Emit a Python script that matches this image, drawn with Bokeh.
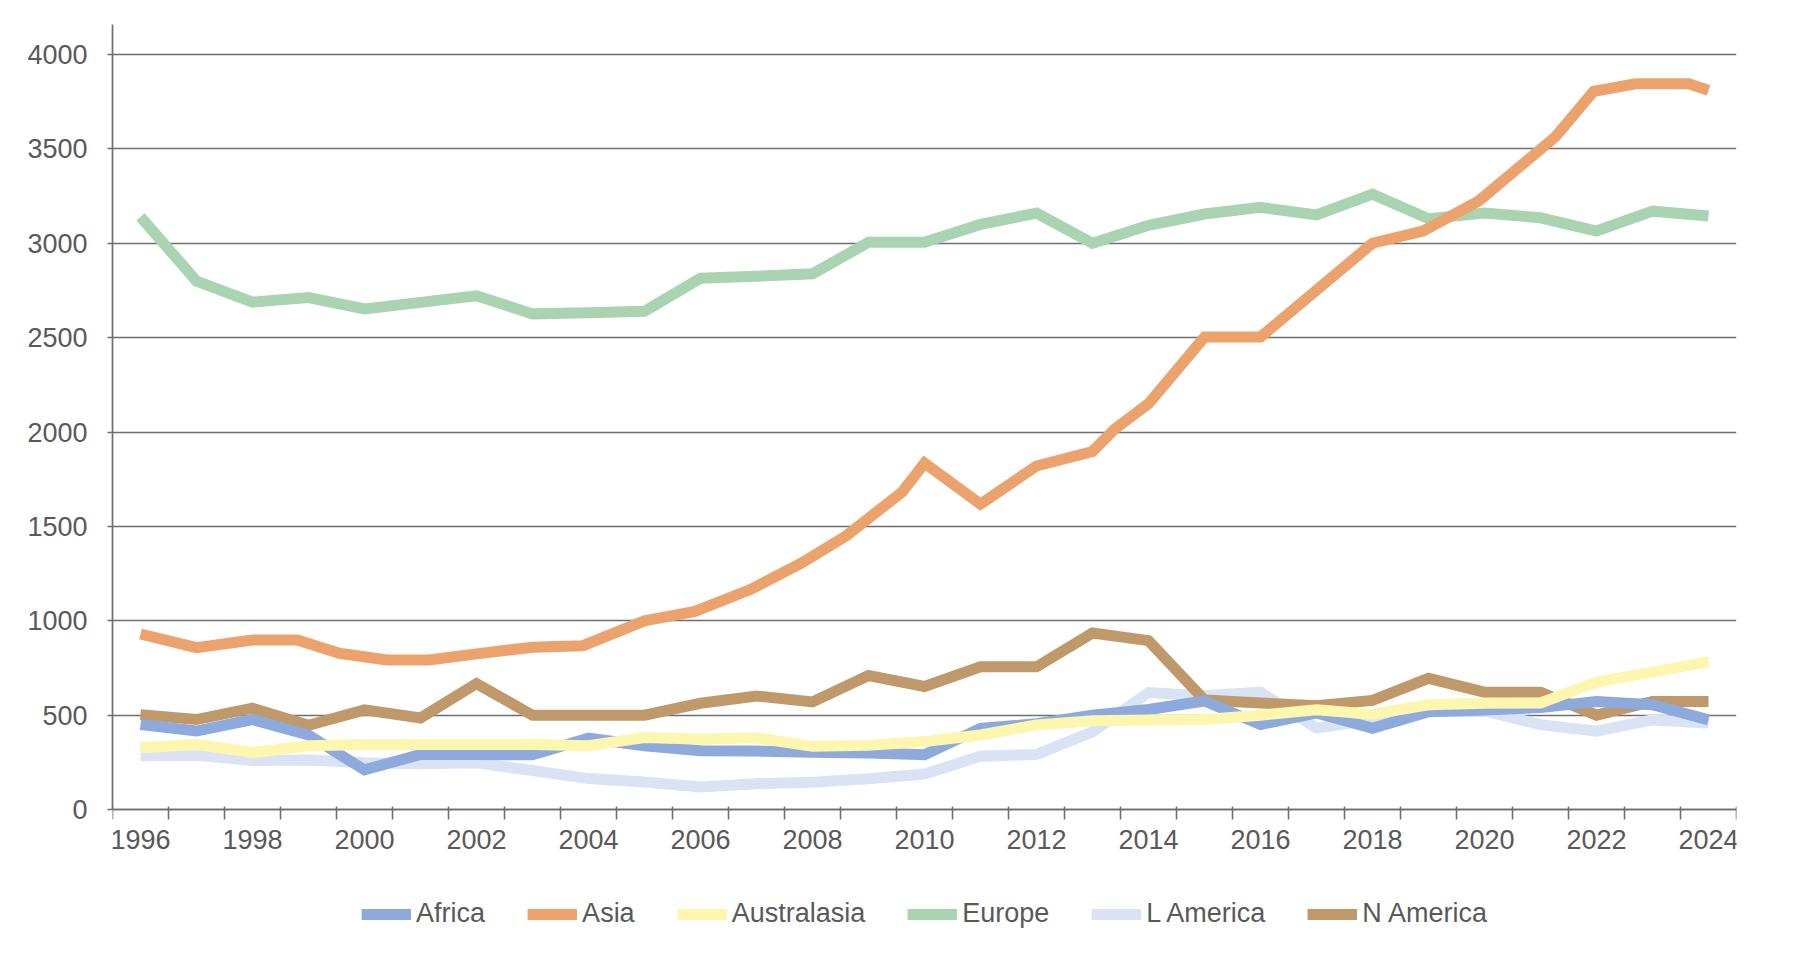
from bokeh.plotting import figure
from bokeh.models import Range1d, FixedTicker, Legend, LegendItem, BasicTickFormatter
from bokeh.embed import file_html
from bokeh.resources import INLINE

years = list(range(1996, 2025))

africa = [451, 416, 477, 395, 210, 292, 292, 290, 378, 338, 312, 310, 303, 300, 290,
          430, 455, 500, 530, 575, 450, 512, 430, 518, 528, 540, 572, 555, 475]
australasia = [328, 345, 302, 338, 345, 345, 345, 345, 338, 382, 372, 380, 335, 340, 360,
               395, 448, 470, 475, 477, 500, 528, 505, 555, 563, 565, 675, 728, 782]
europe = [3140, 2800, 2688, 2712, 2652, 2687, 2722, 2626, 2632, 2640, 2815, 2825, 2838, 3005, 3005,
          3100, 3160, 3000, 3095, 3155, 3190, 3150, 3260, 3130, 3160, 3135, 3065, 3170, 3145]
l_america = [285, 288, 260, 262, 248, 243, 248, 207, 164, 146, 120, 137, 145, 163, 188,
             283, 292, 412, 620, 603, 622, 432, 475, 520, 522, 450, 415, 475, 458]
n_america = [503, 477, 537, 446, 528, 485, 667, 500, 500, 500, 563, 602, 570, 710, 652,
             756, 756, 935, 895, 580, 565, 550, 578, 695, 622, 622, 500, 573, 573]

asia_years = [1996.0, 1997.0, 1998.0, 1998.8, 1999.55, 2000.4, 2001.15, 2002.0, 2003.0, 2003.9,
              2005.0, 2005.9, 2006.9, 2007.8, 2008.6, 2009.6, 2010.0, 2011.0, 2012.0, 2013.0,
              2013.4, 2014.0, 2015.0, 2016.0, 2018.0, 2018.9, 2019.9, 2021.27, 2021.95, 2022.7,
              2023.65, 2024.0]
asia = [930, 858, 898, 898, 828, 792, 792, 825, 860, 868,
        1000, 1050, 1167, 1305, 1450, 1682, 1835, 1618, 1820, 1897,
        2017, 2150, 2503, 2503, 3000, 3065, 3225, 3565, 3805, 3845,
        3845, 3810]

y_ticks = list(range(0, 4001, 500))
x_label_years = list(range(1996, 2025, 2))

colors = {
    "Africa": "#8EA9DB",
    "Asia": "#EBA26D",
    "Australasia": "#FDF6AE",
    "Europe": "#AAD3B2",
    "L America": "#DAE3F3",
    "N America": "#C0996B",
}

FONT = "Liberation Sans"
TXT = "#595959"
GRID = "#6E6E6E"

Y_TOP = 4159
Y_BOTTOM = -699   # room below the axis for tick labels and the legend

p = figure(width=1779, height=949, output_backend="svg", toolbar_location=None,
           x_range=Range1d(1995.5, 2024.5), y_range=Range1d(Y_BOTTOM, Y_TOP),
           min_border_left=112, min_border_right=43, min_border_top=24,
           min_border_bottom=8)
p.outline_line_color = None
p.background_fill_color = "white"
p.border_fill_color = "white"

lw = 11
r_la = p.line(years, l_america, line_color=colors["L America"], line_width=lw, line_join="miter")
r_na = p.line(years, n_america, line_color=colors["N America"], line_width=lw, line_join="miter")
r_af = p.line(years, africa, line_color=colors["Africa"], line_width=lw, line_join="miter")
r_au = p.line(years, australasia, line_color=colors["Australasia"], line_width=lw, line_join="miter")
r_eu = p.line(years, europe, line_color=colors["Europe"], line_width=lw, line_join="miter")
r_as = p.line(asia_years, asia, line_color=colors["Asia"], line_width=lw, line_join="miter")

# x axis, pinned at value 0
xa = p.xaxis[0]
xa.fixed_location = 0
xa.ticker = FixedTicker(ticks=x_label_years,
                        minor_ticks=[y - 0.5 for y in range(1996, 2026)])
xa.formatter = BasicTickFormatter(use_scientific=False)
xa.major_tick_out = 0
xa.major_tick_in = 0
xa.minor_tick_out = 10
xa.minor_tick_in = 3
xa.minor_tick_line_color = GRID
xa.minor_tick_line_width = 1.6
xa.axis_line_color = GRID
xa.axis_line_width = 1.7
xa.major_label_text_font = FONT
xa.major_label_text_font_size = "27px"
xa.major_label_text_color = TXT
xa.major_label_standoff = 10

# y axis
ya = p.yaxis[0]
ya.bounds = (0, Y_TOP)
ya.ticker = FixedTicker(ticks=y_ticks)
ya.major_tick_out = 5
ya.major_tick_in = 0
ya.minor_tick_out = 0
ya.minor_tick_in = 0
ya.major_tick_line_color = GRID
ya.major_tick_line_width = 1.6
ya.axis_line_color = GRID
ya.axis_line_width = 1.7
ya.major_label_text_font = FONT
ya.major_label_text_font_size = "27px"
ya.major_label_text_color = TXT
ya.major_label_standoff = 20

p.xgrid.visible = False
p.ygrid.ticker = FixedTicker(ticks=y_ticks)
p.ygrid.grid_line_color = GRID
p.ygrid.grid_line_width = 1.7

legend = Legend(items=[
    LegendItem(label="Africa", renderers=[r_af]),
    LegendItem(label="Asia", renderers=[r_as]),
    LegendItem(label="Australasia", renderers=[r_au]),
    LegendItem(label="Europe", renderers=[r_eu]),
    LegendItem(label="L America", renderers=[r_la]),
    LegendItem(label="N America", renderers=[r_na]),
], orientation="horizontal", location="bottom_center",
    glyph_width=50, glyph_height=14, label_standoff=5, spacing=42,
    margin=12, padding=0, border_line_color=None, background_fill_alpha=0,
    label_text_font=FONT, label_text_font_size="27px", label_text_color=TXT)
p.add_layout(legend, "center")

open("out.html", "w").write(file_html(p, INLINE))
